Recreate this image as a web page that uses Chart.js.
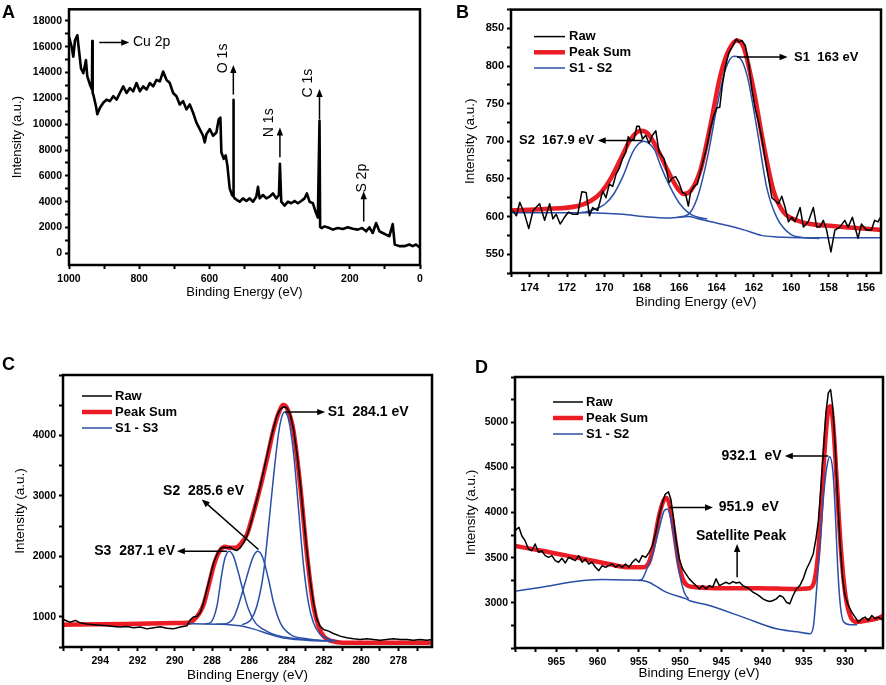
<!DOCTYPE html>
<html>
<head>
<meta charset="utf-8">
<script src="https://cdn.jsdelivr.net/npm/chart.js@4.4.1/dist/chart.umd.min.js"></script>
<style>
  body { margin: 0; background: #fff; width: 886px; height: 685px; position: relative; overflow: hidden; }
  .panel { position: absolute; }
</style>
</head>
<body>
<div class="panel" style="left:0;top:0"><canvas id="chartA" width="443" height="320"></canvas></div>
<div class="panel" style="left:443px;top:0"><canvas id="chartB" width="443" height="320"></canvas></div>
<div class="panel" style="left:0;top:340px"><canvas id="chartC" width="443" height="345"></canvas></div>
<div class="panel" style="left:443px;top:340px"><canvas id="chartD" width="443" height="345"></canvas></div>
<script>
// ---- A: survey spectrum ----
const aRawEnergy = [1000, 992.4, 987.7, 982.9, 976.3, 971.6, 965.9, 959.2, 951.7, 947.9, 940.3, 934.6, 933.6, 932.6, 930.8, 923.2, 919.4, 911.8, 902.4, 892.9, 883.4, 873.9, 864.5, 855, 845.5, 836, 826.5, 817.1, 807.6, 798.1, 788.6, 779.1, 769.7, 760.2, 750.7, 741.2, 731.8, 722.3, 712.8, 703.3, 693.8, 684.4, 674.9, 665.4, 655.9, 646.4, 637, 627.5, 618, 613.3, 608.5, 599, 589.6, 580.1, 573.5, 568.7, 565.9, 559.2, 553.6, 548.8, 542.2, 535.5, 532.6, 531.8, 530.5, 528, 521.3, 513.7, 504.3, 494.8, 485.3, 475.8, 466.4, 461.6, 456.9, 447.4, 437.9, 428.4, 418.9, 409.5, 401.9, 399.1, 395.3, 385.8, 376.3, 366.8, 357.3, 347.9, 338.4, 328.9, 322.3, 314.7, 305.2, 297.6, 291, 286.3, 284.5, 280.6, 272, 257.8, 248.3, 234.1, 219.9, 205.7, 191.5, 177.3, 164.9, 153.6, 144.1, 134.6, 125.1, 115.6, 106.2, 96.7, 87.2, 77.7, 72, 58.8, 44.5, 30.4, 20.9, 11.4, 0];
const aRawCounts = [16760, 16000, 15230, 16500, 16890, 15740, 14340, 13950, 14970, 13700, 13060, 12680, 16450, 12400, 12300, 11400, 10770, 11280, 11660, 11910, 11790, 12170, 11910, 12420, 12930, 12420, 12800, 12550, 13190, 12550, 12930, 12680, 13190, 12930, 13440, 13320, 14080, 13440, 13190, 12420, 12170, 11530, 11790, 11150, 11530, 10890, 10130, 9620, 9110, 8600, 9230, 9620, 9110, 9360, 10380, 10510, 7830, 7320, 7580, 6810, 5030, 4520, 4450, 11900, 4400, 4260, 4130, 4000, 4260, 4060, 4260, 4000, 4390, 5150, 4260, 4520, 4260, 4390, 4640, 4260, 4520, 6940, 4000, 3700, 4000, 3880, 4060, 3880, 4060, 4260, 4640, 4000, 3880, 3240, 2780, 10260, 2050, 1960, 2090, 1960, 1840, 1960, 1890, 2020, 1910, 1840, 1960, 1710, 2020, 1580, 2350, 1710, 1580, 1450, 1330, 2270, 690, 560, 560, 690, 560, 690, 430];
const aXLabels = [1000, 800, 600, 400, 200, 0];
const aYLabels = [0, 2000, 4000, 6000, 8000, 10000, 12000, 14000, 16000, 18000];

// ---- B: S 2p ----
const bRawEnergy = [174.89, 174.71, 174.53, 174.27, 174.05, 173.82, 173.47, 173.2, 172.93, 172.76, 172.58, 172.37, 172.14, 171.92, 171.69, 171.43, 171.21, 170.98, 170.8, 170.63, 170.36, 170.09, 169.92, 169.74, 169.56, 169.38, 169.21, 169.03, 168.85, 168.73, 168.59, 168.41, 168.27, 168.14, 167.96, 167.79, 167.61, 167.43, 167.25, 167.08, 166.81, 166.54, 166.37, 166.19, 166.01, 165.83, 165.66, 165.51, 165.39, 165.21, 165.03, 164.86, 164.68, 164.5, 164.33, 164.15, 163.97, 163.83, 163.7, 163.53, 163.35, 163.17, 162.94, 162.82, 162.64, 162.46, 162.28, 162.11, 161.93, 161.75, 161.57, 161.4, 161.22, 161.04, 160.86, 160.69, 160.51, 160.33, 160.15, 159.98, 159.8, 159.53, 159.35, 159.09, 158.82, 158.64, 158.47, 158.29, 158.11, 157.88, 157.67, 157.4, 157.14, 156.96, 156.73, 156.43, 156.25, 155.98, 155.71, 155.54, 155.36, 155.18];
const bRawCounts = [608, 601, 619, 603, 584, 608, 617, 595, 617, 597, 603, 590, 599, 606, 603, 603, 633, 632, 601, 612, 608, 634, 625, 643, 640, 656, 664, 677, 686, 706, 701, 703, 720, 720, 703, 708, 697, 708, 714, 686, 677, 645, 651, 653, 645, 632, 630, 614, 632, 640, 643, 660, 677, 695, 717, 734, 745, 745, 773, 799, 817, 825, 836, 832, 834, 827, 803, 769, 743, 725, 703, 677, 651, 625, 621, 617, 627, 612, 593, 599, 593, 612, 586, 593, 612, 586, 586, 595, 582, 553, 582, 586, 595, 586, 599, 571, 590, 582, 582, 595, 593, 601];
const bSumEnergy = [175, 173.2, 171.43, 170.72, 170.18, 169.65, 169.12, 168.59, 168.05, 167.7, 167.17, 166.63, 166.1, 165.75, 165.39, 164.86, 164.33, 163.79, 163.35, 162.9, 162.55, 162.02, 161.48, 160.95, 160.42, 159.71, 159, 158.11, 157.22, 156.16, 155.13];
const bSumCounts = [608, 610, 614, 621, 632, 651, 677, 703, 714, 711, 690, 662, 638, 630, 634, 662, 721, 788, 821, 834, 825, 769, 695, 634, 606, 595, 590, 588, 586, 584, 582];
const bBaseEnergy = [175, 171, 169, 167.9, 166.5, 165.5, 165, 164.3, 163.4, 162.5, 161.6, 160.8, 159, 155.13];
const bBaseCounts = [605, 605, 603, 600, 598, 600, 597, 593, 588, 582, 575, 573, 572, 572];
const bS2Energy = [171.5, 171, 170.5, 170, 169.5, 169, 168.5, 168.2, 167.9, 167.6, 167.3, 167, 166.5, 166, 165.5, 165, 164.5];
const bS2Counts = [605, 606, 610, 616, 630, 654, 685, 696, 700, 697, 688, 668, 640, 618, 605, 599, 597];
const bS1Energy = [166.1, 165.51, 165.03, 164.5, 163.97, 163.53, 163.08, 162.82, 162.37, 161.84, 161.31, 160.78, 160.07, 159.36, 158.5];
const bS1Counts = [599, 603, 625, 677, 747, 795, 813, 812, 788, 717, 638, 599, 577, 572, 571];
const bXLabels = [174, 172, 170, 168, 166, 164, 162, 160, 158, 156];
const bYLabels = [550, 600, 650, 700, 750, 800, 850];

// ---- C: C 1s ----
const cRawEnergy = [295.97, 295.79, 295.61, 295.34, 295.07, 294.72, 294.36, 294, 293.64, 293.28, 292.93, 292.57, 292.21, 291.85, 291.5, 291.14, 290.78, 290.42, 290.07, 289.71, 289.35, 289.17, 288.99, 288.82, 288.64, 288.46, 288.28, 288.1, 287.92, 287.74, 287.56, 287.39, 287.21, 287.03, 286.85, 286.67, 286.49, 286.31, 286.13, 285.96, 285.78, 285.6, 285.42, 285.24, 285.06, 284.88, 284.7, 284.53, 284.35, 284.17, 283.99, 283.81, 283.63, 283.45, 283.27, 283.1, 282.92, 282.74, 282.56, 282.38, 282.2, 282.02, 281.75, 281.49, 281.13, 280.77, 280.41, 280.06, 279.7, 279.34, 278.98, 278.63, 278.27, 277.91, 277.55, 277.2, 276.84, 276.48, 276.21];
const cRawCounts = [955, 930, 910, 940, 900, 880, 870, 860, 850, 840, 830, 840, 820, 830, 800, 820, 835, 810, 800, 830, 850, 950, 1000, 1005, 1066, 1231, 1452, 1672, 1893, 2031, 2125, 2152, 2141, 2152, 2114, 2097, 2141, 2224, 2334, 2500, 2720, 2941, 3162, 3410, 3658, 3906, 4127, 4320, 4430, 4474, 4458, 4347, 4099, 3713, 3217, 2665, 2114, 1617, 1231, 956, 845, 790, 762, 724, 680, 652, 635, 624, 635, 624, 613, 624, 635, 624, 624, 613, 624, 613, 624];
const cSumEnergy = [296, 294, 292, 290, 289.2, 288.82, 288.64, 288.46, 288.28, 288.1, 287.92, 287.74, 287.56, 287.3, 287.03, 286.76, 286.49, 286.13, 285.78, 285.42, 285.06, 284.7, 284.35, 284.2, 283.99, 283.63, 283.27, 282.92, 282.56, 282.29, 282.02, 281.6, 281, 279, 276.2];
const cSumCounts = [870, 875, 885, 895, 905, 1000, 1080, 1200, 1397, 1620, 1838, 2000, 2103, 2158, 2141, 2141, 2196, 2362, 2720, 3134, 3603, 4099, 4430, 4502, 4458, 4072, 3162, 2058, 1176, 845, 680, 600, 572, 570, 570];
const cBaseEnergy = [289.3, 288.5, 287.7, 287.2, 286.5, 285.8, 285, 284.3, 283.5, 282.5, 281.5];
const cBaseCounts = [885, 882, 878, 873, 850, 800, 720, 655, 625, 605, 595];
const cS3Energy = [288.4, 288.1, 287.9, 287.74, 287.6, 287.47, 287.3, 287.08, 286.85, 286.6, 286.31, 286.04, 285.68, 285.24, 284.8, 284.34, 283.45, 282.5];
const cS3Counts = [882, 900, 1000, 1175, 1450, 1728, 1980, 2086, 2000, 1740, 1400, 1120, 900, 790, 720, 679, 635, 610];
const cS2Energy = [287.8, 287.39, 286.85, 286.49, 286.13, 285.78, 285.54, 285.28, 284.97, 284.7, 284.34, 283.8, 282.91, 281.66];
const cS2Counts = [878, 880, 983, 1286, 1672, 2003, 2086, 1976, 1617, 1231, 900, 707, 635, 596];
const cS1Energy = [286.4, 286.13, 285.9, 285.6, 285.24, 284.97, 284.7, 284.43, 284.25, 284.11, 283.9, 283.63, 283.36, 283.09, 282.83, 282.56, 282.2, 281.66, 281.3];
const cS1Counts = [870, 900, 960, 1175, 1728, 2500, 3327, 4044, 4320, 4386, 4265, 3713, 2775, 1838, 1231, 900, 707, 624, 600];
const cXLabels = [294, 292, 290, 288, 286, 284, 282, 280, 278];
const cYLabels = [1000, 2000, 3000, 4000];

// ---- D: Cu 2p ----
const dRawEnergy = [970.2, 969.79, 969.51, 969.18, 968.78, 968.37, 967.96, 967.56, 967.15, 966.75, 966.34, 965.93, 965.53, 965.12, 964.72, 964.31, 963.9, 963.5, 963.09, 962.69, 962.28, 961.87, 961.47, 961.06, 960.66, 960.25, 959.84, 959.44, 959.03, 958.63, 958.22, 957.81, 957.41, 957, 956.6, 956.19, 955.78, 955.38, 954.97, 954.57, 954.16, 953.75, 953.35, 952.94, 952.54, 952.13, 951.8, 951.4, 951.11, 950.83, 950.49, 950.09, 949.68, 949.29, 948.88, 948.48, 948.07, 947.66, 947.26, 946.85, 946.45, 946.04, 945.63, 945.23, 944.82, 944.42, 944.01, 943.6, 943.2, 942.79, 942.39, 941.98, 941.57, 941.17, 940.76, 940.36, 939.95, 939.54, 939.14, 938.73, 938.33, 937.92, 937.51, 937.11, 936.7, 936.3, 935.89, 935.48, 935.08, 934.67, 934.27, 933.86, 933.53, 933.25, 932.97, 932.64, 932.32, 932.03, 931.75, 931.5, 931.22, 930.94, 930.61, 930.29, 930, 929.6, 929.19, 928.78, 928.38, 927.97, 927.57, 927.16, 926.75, 926.35, 925.94, 925.41];
const dRawCounts = [3779, 3816, 3835, 3743, 3688, 3596, 3577, 3651, 3559, 3577, 3522, 3504, 3522, 3467, 3449, 3493, 3441, 3504, 3485, 3467, 3522, 3449, 3485, 3430, 3449, 3393, 3357, 3412, 3393, 3412, 3430, 3393, 3419, 3393, 3430, 3393, 3449, 3485, 3449, 3522, 3504, 3559, 3632, 3779, 3963, 4110, 4202, 4228, 4147, 3963, 3706, 3485, 3375, 3320, 3265, 3228, 3191, 3154, 3191, 3154, 3191, 3173, 3265, 3191, 3210, 3228, 3210, 3235, 3220, 3228, 3191, 3173, 3154, 3118, 3099, 3074, 3044, 3026, 3015, 3026, 3044, 3081, 3063, 3007, 2989, 3081, 3154, 3191, 3265, 3375, 3449, 3540, 3706, 3890, 4221, 4662, 5103, 5324, 5360, 5176, 4772, 4221, 3669, 3265, 3081, 2971, 2897, 2842, 2787, 2824, 2842, 2805, 2860, 2824, 2842, 2805];
const dSumEnergy = [970.2, 966.75, 962.69, 958.63, 956.19, 954.57, 953.75, 953.14, 952.54, 952.01, 951.64, 951.24, 950.71, 950.18, 949.68, 949.08, 948.07, 944.42, 940.36, 936.3, 934.27, 933.66, 933.25, 932.84, 932.44, 932.03, 931.75, 931.42, 931.02, 930.53, 930, 929.39, 928.58, 927.36, 926.14, 925.33];
const dSumCounts = [3632, 3577, 3504, 3430, 3393, 3393, 3449, 3669, 3963, 4129, 4160, 4074, 3779, 3449, 3265, 3191, 3173, 3162, 3162, 3154, 3162, 3265, 3559, 4147, 4735, 5140, 5176, 4956, 4368, 3632, 3118, 2860, 2787, 2805, 2824, 2860];
const dBaseEnergy = [970.2, 966.75, 962.69, 959.44, 956.6, 954.57, 953.77, 951.68, 949.25, 948.88, 946.45, 942.39, 938.33, 935.85, 934.22, 933.82, 933.41, 933, 932.6, 932.19, 931.86, 931.46, 931.18, 930.9, 930.57, 930.16, 929.35, 928.54];
const dBaseCounts = [3125, 3173, 3235, 3257, 3254, 3246, 3228, 3118, 3044, 3026, 2971, 2842, 2713, 2680, 2658, 2750, 3191, 3706, 4184, 4515, 4618, 4441, 4000, 3412, 2971, 2787, 2757, 2757];
const dS2Energy = [955, 954.57, 954, 953.35, 952.54, 951.93, 951.52, 951.11, 950.58, 950.09, 949.49, 948.96];
const dS2Counts = [3250, 3265, 3380, 3522, 3816, 4018, 4040, 3926, 3632, 3338, 3118, 3040];
const dXLabels = [965, 960, 955, 950, 945, 940, 935, 930];
const dYLabels = [3000, 3500, 4000, 4500, 5000];

const FONT = '"Liberation Sans", Arial, sans-serif';
const RED = '#ec1c24';
const BLUE = '#2a4fa8';

function pts(xs, ys) {
  return xs.map((x, i) => ({ x: x, y: ys[i] }));
}

function line(xs, ys, color, width, smooth, label, rank) {
  return {
    label: label || '',
    rank: rank || 0,
    data: pts(xs, ys),
    borderColor: color,
    borderWidth: width,
    pointRadius: 0,
    fill: false,
    tension: smooth ? 0.4 : 0,
    cubicInterpolationMode: smooth ? 'monotone' : 'default',
    borderJoinStyle: 'round'
  };
}

function axis(min, max, step, labels, size, fit, title, tsize, tpad, reverse) {
  const vals = [];
  for (let v = Math.ceil(min / step - 1e-9) * step; v <= max + 1e-9; v += step) {
    vals.push(Math.round(v * 100) / 100);
  }
  const horiz = !!reverse;
  return {
    type: 'linear',
    min: min,
    max: max,
    reverse: !!reverse,
    afterBuildTicks: s => { s.ticks = vals.map(v => ({ value: v })); },
    afterFit: s => { if (horiz) s.height = fit; else s.width = fit; },
    ticks: {
      autoSkip: false,
      maxRotation: 0,
      padding: horiz ? 4 : 3,
      color: '#000',
      font: { family: FONT, size: size, weight: 'bold' },
      callback: v => labels.includes(v) ? String(v) : ''
    },
    grid: { drawOnChartArea: false, drawTicks: true, tickLength: 4, tickWidth: 2, tickColor: '#000' },
    border: { display: false },
    title: {
      display: true,
      text: title,
      color: '#000',
      font: { family: FONT, size: tsize },
      padding: horiz ? { top: 0, bottom: tpad } : { top: tpad, bottom: 0 }
    }
  };
}

const decor = {
  id: 'decor',
  afterDraw(chart, args, o) {
    const { ctx, chartArea: a, scales } = chart;
    const px = v => scales.x.getPixelForValue(v);
    const py = v => scales.y.getPixelForValue(v);
    ctx.save();
    ctx.strokeStyle = '#000';
    ctx.fillStyle = '#000';
    ctx.lineWidth = 2.5;
    ctx.strokeRect(a.left, a.top, a.right - a.left, a.bottom - a.top);

    ctx.font = 'bold 18px ' + FONT;
    ctx.textAlign = 'left';
    ctx.textBaseline = 'alphabetic';
    ctx.fillText(o.letter, o.lx, o.ly);

    if (o.legend) {
      const items = chart.data.datasets.filter(d => d.rank).sort((p, q) => p.rank - q.rank);
      ctx.font = 'bold 13px ' + FONT;
      ctx.textBaseline = 'middle';
      items.forEach((d, i) => {
        const y = a.top + o.legend.y + i * o.legend.gap;
        ctx.strokeStyle = d.borderColor;
        ctx.lineWidth = d.borderWidth;
        ctx.beginPath();
        ctx.moveTo(a.left + o.legend.x, y);
        ctx.lineTo(a.left + o.legend.x + o.legend.len, y);
        ctx.stroke();
        ctx.fillText(d.label, a.left + o.legend.tx, y);
      });
    }

    ctx.strokeStyle = '#000';
    ctx.fillStyle = '#000';
    (o.notes || []).forEach(n => {
      if (n.arrow) {
        const x1 = px(n.arrow[0]), y1 = py(n.arrow[1]);
        const x2 = px(n.arrow[2]), y2 = py(n.arrow[3]);
        const ang = Math.atan2(y2 - y1, x2 - x1);
        const c = Math.cos(ang), s = Math.sin(ang);
        ctx.lineWidth = 1.5;
        ctx.beginPath();
        ctx.moveTo(x1, y1);
        ctx.lineTo(x2 - 6 * c, y2 - 6 * s);
        ctx.stroke();
        ctx.beginPath();
        ctx.moveTo(x2, y2);
        ctx.lineTo(x2 - 8 * c + 3.2 * s, y2 - 8 * s - 3.2 * c);
        ctx.lineTo(x2 - 8 * c - 3.2 * s, y2 - 8 * s + 3.2 * c);
        ctx.closePath();
        ctx.fill();
      } else {
        ctx.font = o.noteFont;
        ctx.textAlign = n.align || 'left';
        ctx.textBaseline = 'middle';
        ctx.save();
        ctx.translate(px(n.at[0]), py(n.at[1]));
        if (n.rot) ctx.rotate(-Math.PI / 2);
        ctx.fillText(n.text, 0, 0);
        ctx.restore();
      }
    });
    ctx.restore();
  }
};

function build(id, datasets, x, y, pad, deco) {
  return new Chart(document.getElementById(id), {
    type: 'line',
    data: { datasets: datasets },
    options: {
      responsive: false,
      animation: false,
      events: [],
      layout: { padding: pad },
      scales: { x: x, y: y },
      plugins: { legend: { display: false }, tooltip: { enabled: false }, decor: deco }
    },
    plugins: [decor]
  });
}

// A
build('chartA',
  [line(aRawEnergy, aRawCounts, '#000', 2.6, false)],
  axis(0, 1000, 100, aXLabels, 10.5, 55, 'Binding Energy (eV)', 13, 20, true),
  axis(-900, 18900, 1000, aYLabels, 10.5, 69, 'Intensity (a.u.)', 13, 10, false),
  { left: 0, top: 5, right: 23, bottom: 0 },
  {
    letter: 'A', lx: 2, ly: 18,
    noteFont: '14px ' + FONT,
    notes: [
      { arrow: [913.7, 16330, 828.4, 16330] },
      { text: 'Cu 2p', at: [818, 16330] },
      { arrow: [531.8, 12300, 531.8, 14590] },
      { text: 'O 1s', at: [561, 15100], align: 'center', rot: true },
      { arrow: [399.1, 7450, 399.1, 9740] },
      { text: 'N 1s', at: [430, 10115], align: 'center', rot: true },
      { arrow: [286.3, 10380, 286.3, 12730] },
      { text: 'C 1s', at: [319, 13180], align: 'center', rot: true },
      { arrow: [160.4, 2470, 160.4, 4820] },
      { text: 'S 2p', at: [165, 5820], align: 'center', rot: true }
    ]
  });

// B
build('chartB',
  [
    line(bRawEnergy, bRawCounts, '#000', 1.5, false, 'Raw', 1),
    line(bS1Energy, bS1Counts, BLUE, 1.5, true),
    line(bS2Energy, bS2Counts, BLUE, 1.5, true, 'S1 - S2', 3),
    line(bBaseEnergy, bBaseCounts, BLUE, 1.5, true),
    line(bSumEnergy, bSumCounts, RED, 4.5, true, 'Peak Sum', 2)
  ],
  axis(155.2, 175, 1, bXLabels, 11, 47, 'Binding Energy (eV)', 13.5, 10, true),
  axis(525, 875, 25, bYLabels, 11, 68, 'Intensity (a.u.)', 13.5, 19, false),
  { left: 0, top: 5, right: 5, bottom: 0 },
  {
    letter: 'B', lx: 13, ly: 18,
    legend: { x: 23, y: 27, gap: 15.7, len: 31, tx: 58 },
    noteFont: 'bold 13px ' + FONT,
    notes: [
      { arrow: [162.9, 812, 160.2, 812] },
      { text: 'S1  163 eV', at: [159.85, 812] },
      { arrow: [167.96, 701, 170.36, 701] },
      { text: 'S2  167.9 eV', at: [170.55, 701], align: 'right' }
    ]
  });

// C
build('chartC',
  [
    line(cRawEnergy, cRawCounts, '#000', 1.5, false, 'Raw', 1),
    line(cS1Energy, cS1Counts, BLUE, 1.5, true, 'S1 - S3', 3),
    line(cS2Energy, cS2Counts, BLUE, 1.5, true),
    line(cS3Energy, cS3Counts, BLUE, 1.5, true),
    line(cBaseEnergy, cBaseCounts, BLUE, 1.5, true),
    line(cSumEnergy, cSumCounts, RED, 4.5, true, 'Peak Sum', 2)
  ],
  axis(276.2, 296, 1, cXLabels, 10.5, 38, 'Binding Energy (eV)', 13.5, 2, true),
  axis(500, 5000, 500, cYLabels, 10.5, 63, 'Intensity (a.u.)', 13.5, 12, false),
  { left: 0, top: 35, right: 11, bottom: 0 },
  {
    letter: 'C', lx: 2, ly: 30,
    legend: { x: 19, y: 21, gap: 16, len: 30, tx: 52 },
    noteFont: 'bold 14px ' + FONT,
    notes: [
      { arrow: [284.08, 4386, 281.93, 4386] },
      { text: 'S1  284.1 eV', at: [281.8, 4386] },
      { arrow: [285.51, 2114, 288.55, 2941] },
      { text: 'S2  285.6 eV', at: [288.46, 3079], align: 'center' },
      { arrow: [287.21, 2086, 289.89, 2086] },
      { text: 'S3  287.1 eV', at: [289.98, 2086], align: 'right' }
    ]
  });

// D
build('chartD',
  [
    line(dRawEnergy, dRawCounts, '#000', 1.5, false, 'Raw', 1),
    line(dS2Energy, dS2Counts, BLUE, 1.5, true),
    line(dBaseEnergy, dBaseCounts, BLUE, 1.5, true, 'S1 - S2', 3),
    line(dSumEnergy, dSumCounts, RED, 4.5, true, 'Peak Sum', 2)
  ],
  axis(925.4, 970, 2.5, dXLabels, 10.5, 37, 'Binding Energy (eV)', 13.5, 4, true),
  axis(2500, 5500, 250, dYLabels, 10.5, 72, 'Intensity (a.u.)', 13.5, 20, false),
  { left: 0, top: 37, right: 3, bottom: 0 },
  {
    letter: 'D', lx: 32, ly: 33,
    legend: { x: 38, y: 25, gap: 16, len: 30, tx: 71 },
    noteFont: 'bold 14px ' + FONT,
    notes: [
      { arrow: [932.03, 4625, 937.3, 4625] },
      { text: '932.1  eV', at: [937.7, 4625], align: 'right' },
      { arrow: [951.3, 4055, 946.0, 4055] },
      { text: '951.9  eV', at: [945.3, 4055] },
      { arrow: [943.08, 3283, 943.08, 3651] },
      { text: 'Satellite Peak', at: [942.6, 3740], align: 'center' }
    ]
  });
</script>
</body>
</html>
